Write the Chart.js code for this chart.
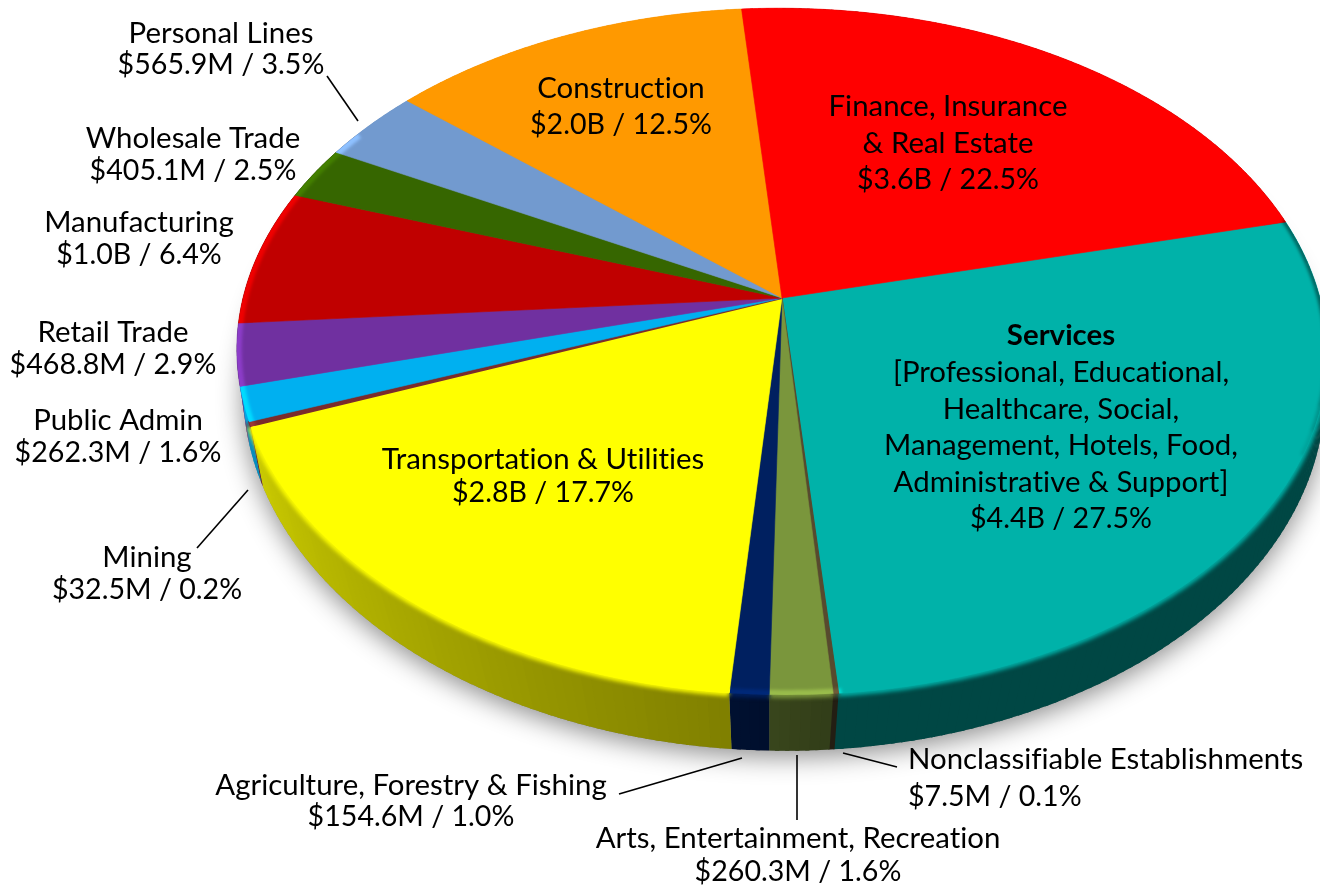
<!DOCTYPE html>
<html><head><meta charset="utf-8">
<style>html,body{margin:0;padding:0;background:#fff;overflow:hidden}canvas{display:block}</style>
<script src="https://cdn.jsdelivr.net/npm/chart.js@4"></script>
</head><body><canvas id="c" width="1320" height="885"></canvas>
<script>
const categories=["Services","Nonclassifiable Establishments","Arts, Entertainment, Recreation","Agriculture, Forestry & Fishing","Transportation & Utilities","Mining","Public Admin","Retail Trade","Manufacturing","Wholesale Trade","Personal Lines","Construction","Finance, Insurance & Real Estate"];
const sharePct=[27.5,0.1,1.6,1.0,17.7,0.2,1.6,2.9,6.4,2.5,3.5,12.5,22.5];
const dollars=["$4.4B","$7.5M","$260.3M","$154.6M","$2.8B","$32.5M","$262.3M","$468.8M","$1.0B","$405.1M","$565.9M","$2.0B","$3.6B"];
const colors=["#00B2A9","#574A2E","#7A963C","#002060","#FFFF00","#7B2C2C","#00B0F0","#7030A0","#C00000","#366600","#729ACF","#FF9900","#FF0000"];
const FONT='Lato, "Open Sans", sans-serif', FS=29.4, FSV=28.6;
const labelLayout=[
 [10,["Personal Lines"],221,34,31,"center"],
 [9,["Wholesale Trade"],193,139,32,"center"],
 [8,["Manufacturing"],139,223,32,"center"],
 [7,["Retail Trade"],113,333,32,"center"],
 [6,["Public Admin"],118,421,32,"center"],
 [5,["Mining"],147,558,32,"center"],
 [11,["Construction"],621,89,36,"center"],
 [12,["Finance, Insurance","& Real Estate"],948,107,36.5,"center"],
 [0,["*Services","[Professional, Educational,","Healthcare, Social,","Management, Hotels, Food,","Administrative & Support]"],1061,336,36.6,"center"],
 [4,["Transportation & Utilities"],543,460,33,"center"],
 [3,["Agriculture, Forestry & Fishing"],411,786,31,"center"],
 [2,["Arts, Entertainment, Recreation"],798,839,33,"center"],
 [1,["Nonclassifiable Establishments"],908,760,37,"left"]
];
const leaders=[[327,76,358,121],[197,548,248,490],[619,794,742,758],[797,755,797,820],[843,753,897,767]];
const topH={cx:782,cy:298,R:538,Rl:539,K:335,p:.156,s:3.5};
const botH={cx:784,cy:353,R:538,Rl:538,K:356,p:.105,s:1};
const thinPad=[0,.12,0,0,0,0,0,0,0,0,0,0,0];
const D=Math.PI/180;
function proj(h,a){const u=Math.cos(a),v=Math.sin(a),w=1-h.p*v;return [h.cx+((u<0?h.Rl:h.R)*u+h.s*v)/w,h.cy+h.K*v/w];}
function rgb(hex){const n=parseInt(hex.slice(1),16);return [n>>16,(n>>8)&255,n&255];}
function sh(hex,f){const c=rgb(hex);return `rgb(${c.map(x=>Math.round(x*f)).join(",")})`;}
function shade(a){let d=a/D;if(d>270)d-=360;
 const k=[[-100,.4],[85,.4],[95,.5],[160,.8],[200,.88]];
 for(let i=1;i<k.length;i++)if(d<=k[i][0]){const t=(d-k[i-1][0])/(k[i][0]-k[i-1][0]);return k[i-1][1]+t*(k[i][1]-k[i-1][1]);}
 return .88;}
function ringPath(ctx,h){ctx.beginPath();for(let d=0;d<=360;d+=1){const p=proj(h,d*D);d?ctx.lineTo(p[0],p[1]):ctx.moveTo(p[0],p[1]);}ctx.closePath();}
function slicePath(ctx,h,a0,a1){ctx.beginPath();ctx.moveTo(h.cx,h.cy);const n=Math.max(2,Math.ceil((a1-a0)/D*2));for(let i=0;i<=n;i++){const p=proj(h,a0+(a1-a0)*i/n);ctx.lineTo(p[0],p[1]);}ctx.closePath();}
function arcLine(ctx,a0,a1){const n=Math.max(2,Math.ceil((a1-a0)/D*2));ctx.beginPath();for(let i=0;i<=n;i++){const p=proj(topH,a0+(a1-a0)*i/n);i?ctx.lineTo(p[0],p[1]):ctx.moveTo(p[0],p[1]);}}
const pie3d={id:'pie3d',
 beforeDatasetDraw(chart){
  const ctx=chart.ctx,arcs=chart.getDatasetMeta(0).data;
  ctx.save();
  ctx.save();ctx.shadowColor='rgba(0,0,0,.45)';ctx.shadowBlur=26;ctx.shadowOffsetY=6;ctx.fillStyle='#888';ringPath(ctx,botH);ctx.fill();ctx.restore();
  arcs.forEach((el,i)=>{
   const pad=thinPad[i]*D,a0=el.startAngle-pad,a1=el.endAngle+pad,n=Math.max(1,Math.ceil((a1-a0)/D));
   for(let j=0;j<n;j++){
    const s=a0+(a1-a0)*j/n,e=a0+(a1-a0)*(j+1)/n,ee=Math.min(a1,e+.4*D),m=(s+e)/2;
    const A=proj(topH,s),B=proj(topH,ee),C=proj(botH,ee),E=proj(botH,s);
    ctx.fillStyle=sh(colors[i],shade(m));ctx.beginPath();ctx.moveTo(A[0],A[1]);ctx.lineTo(B[0],B[1]);ctx.lineTo(C[0],C[1]);ctx.lineTo(E[0],E[1]);ctx.closePath();ctx.fill();
   }
  });
  ctx.save();ringPath(ctx,botH);ctx.clip();ctx.filter='blur(2px)';
  arcs.forEach((el,i)=>{const pad=thinPad[i]*D;arcLine(ctx,el.startAngle-pad,el.endAngle+pad);ctx.strokeStyle=colors[i];ctx.lineWidth=6;ctx.stroke();});
  ctx.restore();
  arcs.forEach((el,i)=>{
   const pad=thinPad[i]*D;
   slicePath(ctx,topH,el.startAngle-pad,el.endAngle+pad);
   ctx.fillStyle=colors[i];ctx.fill();ctx.strokeStyle=colors[i];ctx.lineWidth=i===5?2:(i===1?1.2:.6);ctx.lineJoin='round';ctx.stroke();
  });
  ctx.save();ringPath(ctx,topH);ctx.clip();ctx.filter='blur(1.5px)';
  for(let d=-14;d<26;d+=4){arcLine(ctx,d*D,(d+4)*D);ctx.strokeStyle=`rgba(0,0,0,${(.42*(1-Math.max(0,(d-5))/21)).toFixed(3)})`;ctx.lineWidth=6;ctx.stroke();}
  ctx.globalCompositeOperation='color-dodge';
  arcLine(ctx,85*D,212*D);ctx.strokeStyle='#333';ctx.lineWidth=10;ctx.stroke();
  ctx.restore();
  ctx.restore();
  return false;
 },
 afterDraw(chart){
  const ctx=chart.ctx;ctx.save();
  ctx.strokeStyle='#000';ctx.lineWidth=1.6;
  leaders.forEach(l=>{ctx.beginPath();ctx.moveTo(l[0],l[1]);ctx.lineTo(l[2],l[3]);ctx.stroke();});
  ctx.fillStyle='#000';ctx.textBaseline='middle';ctx.letterSpacing='0.01px';
  labelLayout.forEach(([i,lines,x,y,st,al])=>{
   const all=lines.concat([dollars[i]+" / "+sharePct[i].toFixed(1)+"%"]);
   ctx.textAlign=al;
   all.forEach((t,k)=>{const b=t[0]==='*',last=k===all.length-1;ctx.font=(b?'bold ':'')+(last?FSV:FS)+'px '+FONT;ctx.fillText(b?t.slice(1):t,x,y+k*st);});
  });
  ctx.restore();
 }
};
new Chart(document.getElementById('c'),{
 type:'pie',
 data:{labels:categories,datasets:[{data:sharePct,backgroundColor:colors,borderWidth:0}]},
 options:{responsive:false,animation:false,rotation:76.4,
  plugins:{legend:{display:false},tooltip:{enabled:false}}},
 plugins:[pie3d]
});
</script></body></html>
